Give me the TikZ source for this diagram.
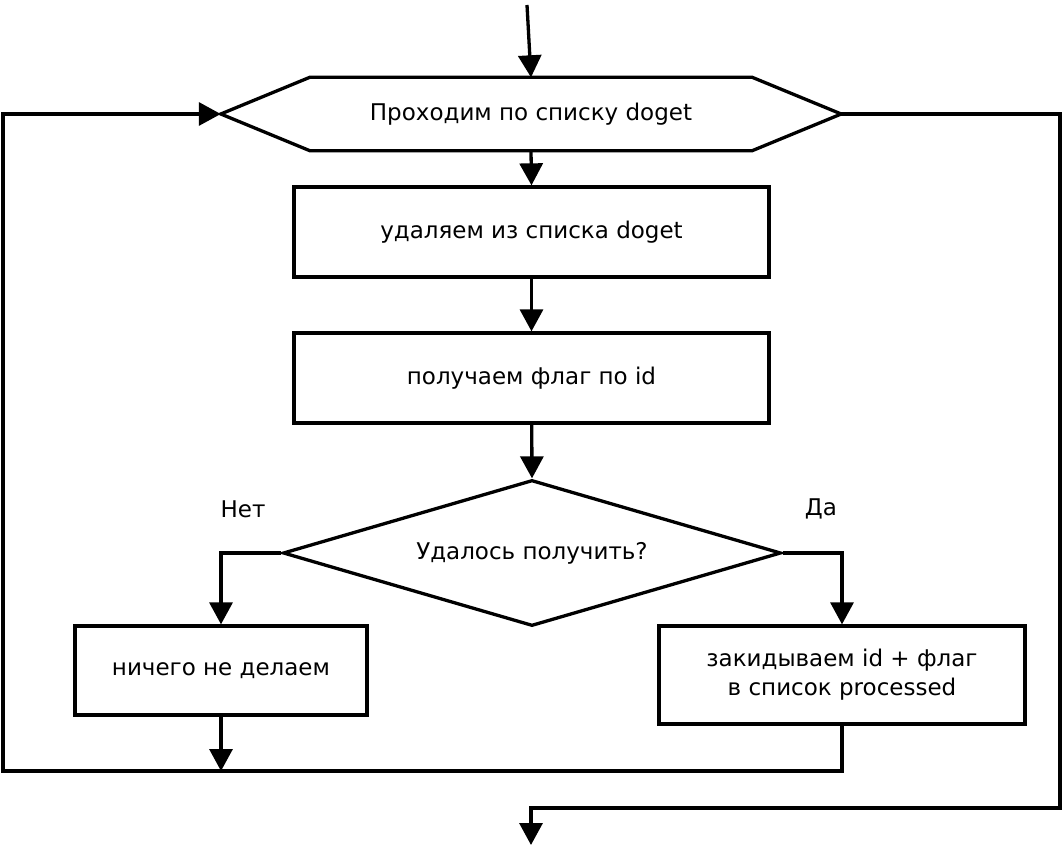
\documentclass[tikz,border=0pt]{standalone}
\usepackage{fontspec}
\setmainfont{DejaVu Sans}
\usetikzlibrary{positioning,arrows.meta,shapes.geometric,calc}

\begin{document}
\begin{tikzpicture}[
  x=1pt, y=-1pt,
  every node/.style={font=\fontsize{23}{29}\selectfont},
  block/.style={draw, line width=3.3pt, minimum width=475pt, minimum height=90pt,
                align=center, inner sep=2pt},
  cond/.style={diamond, draw, line width=3.3pt, aspect=3.41, minimum width=498pt,
               minimum height=146pt, inner sep=0pt, align=center},
  line/.style={line width=3.3pt},
  arr/.style={-{Triangle[length=22pt, width=23pt]}, line width=3.3pt},
]
  \useasboundingbox (0,0) rectangle (1063,850);

  % Loop header (hexagon)
  \node[minimum width=620pt, minimum height=73pt, inner sep=0pt] (loop) at (531,114)
    {Проходим по списку doget};
  \draw[line] (loop.west) -- ([xshift=89pt]loop.north west)
    -- ([xshift=-89pt]loop.north east) -- (loop.east)
    -- ([xshift=-89pt]loop.south east) -- ([xshift=89pt]loop.south west) -- cycle;

  % Body of the loop
  \node[block] (remove) at (531.5,232) {удаляем из списка doget};
  \node[block] (getflag) at (531.5,378) {получаем флаг по id};
  \node[cond] (check) at (532,553) {Удалось получить?};
  \node[block, minimum width=292pt, minimum height=89pt] (nothing) at (221,670.5)
    {ничего не делаем};
  \node[block, minimum width=366pt, minimum height=98pt] (store) at (842,675)
    {закидываем id + флаг\\в список processed};

  % Branch labels
  \node (no) at (243,509) {Нет};
  \node (yes) at (821,509) {Да};

  % Helper points
  \coordinate (start) at (527,5);
  \coordinate (join) at (221,771);
  \coordinate (back) at (3,771);
  \coordinate (exit) at (1060,808);
  \coordinate (finish) at (531,845);

  % Connectors
  \draw[arr] (start) -- (loop.north);
  \draw[arr] (loop.south) -- (remove.north);
  \draw[arr] (remove) -- (getflag);
  \draw[arr] (getflag) -- (check.north);
  \draw[arr] (check.west) -| (nothing.north);
  \draw[arr] (check.east) -| (store.north);
  \draw[arr] (nothing.south) -- (join);
  \draw[arr] (store.south) |- (back) |- (loop.west);
  \draw[arr] (loop.east) -| (exit) -| (finish);
\end{tikzpicture}
\end{document}
